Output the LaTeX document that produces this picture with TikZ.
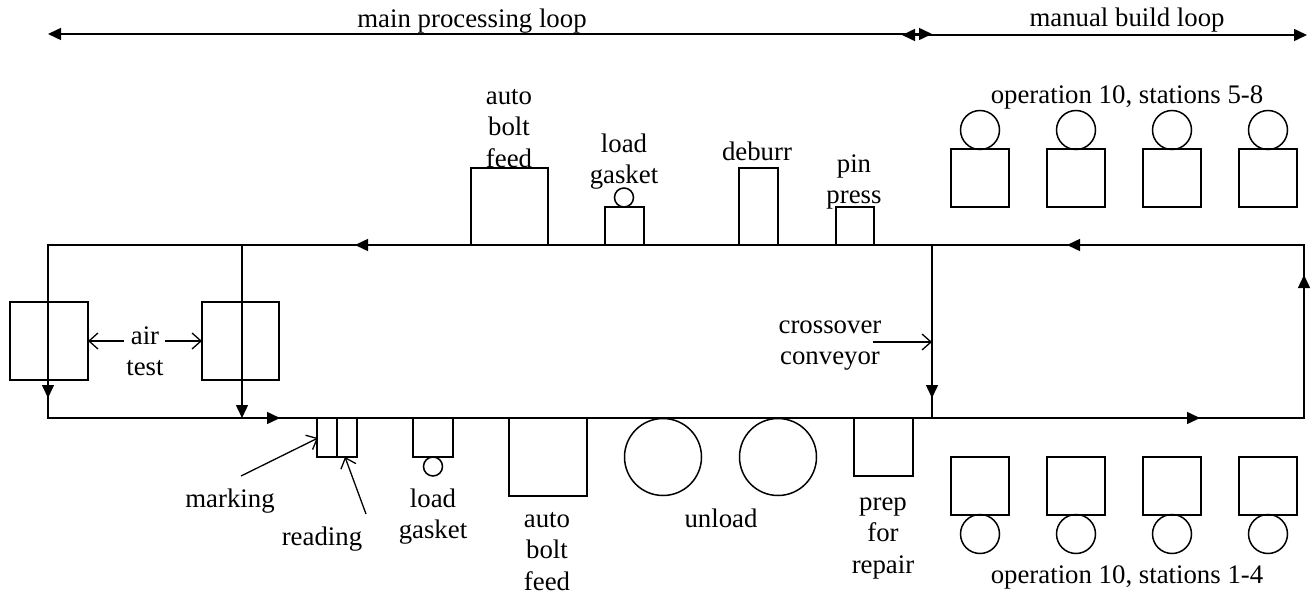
\documentclass[tikz,border=0pt]{standalone}
\usepackage{fontspec}
\setmainfont{Liberation Serif}
\usetikzlibrary{arrows.meta}
\newcommand{\mlines}[1]{\begin{tabular}[t]{@{}c@{}}#1\end{tabular}}
\begin{document}
\begin{tikzpicture}[x=1pt,y=-1pt,line width=1.5pt,
  lbl/.style={font=\fontsize{26.8}{31.5}\selectfont, inner sep=0pt, anchor=base},
  box/.style={draw, inner sep=0pt, outer sep=0pt},
  ring/.style={draw, circle, inner sep=0pt, outer sep=0pt},
  conv/.style={-{Triangle[length=13pt,width=12pt]}},
  dbl/.style={{Triangle[length=13pt,width=12pt]}-{Triangle[length=13pt,width=12pt]}},
  lead/.style={-{Straight Barb[length=9pt,width=16pt]}, line width=1.3pt}]
\useasboundingbox (0,0) rectangle (1312,594);

% top labels and extents
\node[lbl] (mpl) at (472,28) {main processing loop};
\node[lbl] (mbl) at (1127,27) {manual build loop};
\coordinate (mplL) at (48,34); \coordinate (mplR) at (932,34);
\coordinate (mblL) at (902,35); \coordinate (mblR) at (1307,35);
\draw[dbl] (mplL) -- (mplR);
\draw[dbl] (mblL) -- (mblR);

% conveyor loops
\coordinate (TL) at (48,245); \coordinate (BL) at (48,418);
\coordinate (T2) at (242,245); \coordinate (B2) at (242,418);
\coordinate (CT) at (932,245); \coordinate (CB) at (932,418);
\coordinate (TR) at (1304,245); \coordinate (BR) at (1304,418);
\draw (TR) -- (TL) -- (BL) -- (BR) -- cycle;
\draw (CT) -- (CB);
\draw[conv] (T2) -- (B2);

% flow arrows on the conveyors
\coordinate (f1a) at (372,245); \coordinate (f1b) at (355,245);
\coordinate (f2a) at (48,380);  \coordinate (f2b) at (48,398);
\coordinate (f3a) at (262,418); \coordinate (f3b) at (280,418);
\coordinate (f4a) at (932,380); \coordinate (f4b) at (932,398);
\coordinate (f5a) at (1085,245); \coordinate (f5b) at (1067,245);
\coordinate (f6a) at (1304,293); \coordinate (f6b) at (1304,275);
\coordinate (f7a) at (1182,418); \coordinate (f7b) at (1200,418);
\foreach \a in {1,...,7} {\draw[conv] (f\a a) -- (f\a b);}

% upper main line stations
\node[box, minimum width=77pt, minimum height=77pt] (abfT) at (509.5,206.5) {};
\node[lbl] (abfTl) at (509,104) {\mlines{auto\\bolt\\feed}};
\node[box, minimum width=39pt, minimum height=38pt] (lgT) at (624.5,226) {};
\node[ring, minimum size=19pt] (lgTc) at (624,197.5) {};
\node[lbl] (lgTl) at (624,152) {\mlines{load\\gasket}};
\node[box, minimum width=39pt, minimum height=77pt] (deb) at (758.5,206.5) {};
\node[lbl] (debl) at (757,160) {deburr};
\node[box, minimum width=38pt, minimum height=38pt] (pin) at (855,226) {};
\node[lbl] (pinl) at (854,172) {\mlines{pin\\press}};

% manual stations 5-8
\node[lbl] (op58) at (1127,103) {operation 10, stations 5-8};
\foreach \i/\x in {5/980,6/1076,7/1172,8/1268} {
  \node[box, minimum width=58pt, minimum height=58pt] (s\i) at (\x,178) {};
  \node[ring, minimum size=39pt] (o\i) at (\x,130) {};
}

% manual stations 1-4
\node[lbl] (op14) at (1127,583) {operation 10, stations 1-4};
\foreach \i/\x in {1/980,2/1076,3/1172,4/1268} {
  \node[box, minimum width=58pt, minimum height=58pt] (s\i) at (\x,486) {};
  \node[ring, minimum size=39pt] (o\i) at (\x,534) {};
}

% air test
\node[box, minimum width=78pt, minimum height=78pt] (airL) at (49,341) {};
\node[box, minimum width=77pt, minimum height=78pt] (airR) at (240.5,341) {};
\node[lbl] (airl) at (145,344) {\mlines{air\\test}};
\coordinate (airLa) at (124,341); \coordinate (airRa) at (165,341);
\draw[lead] (airLa) -- (airL.east);
\draw[lead] (airRa) -- (airR.west);

% crossover
\node[lbl] (xov) at (830,333) {\mlines{crossover\\conveyor}};
\coordinate (xova) at (873,342); \coordinate (xovb) at (932,342);
\draw[lead] (xova) -- (xovb);

% marking / reading
\node[box, minimum width=20pt, minimum height=39pt] (mark) at (327,437.5) {};
\node[box, minimum width=20pt, minimum height=39pt] (read) at (347,437.5) {};
\node[lbl] (markl) at (230,507) {marking};
\node[lbl] (readl) at (322,545) {reading};
\coordinate (markA) at (241,476); \coordinate (markB) at (318,438);
\coordinate (readA) at (366,514); \coordinate (readB) at (345,457);
\draw[lead] (markA) -- (markB);
\draw[lead] (readA) -- (readB);

% lower main line stations
\node[box, minimum width=40pt, minimum height=39pt] (lgB) at (433,437.5) {};
\node[ring, minimum size=19pt] (lgBc) at (433,466.5) {};
\node[lbl] (lgBl) at (433,507) {\mlines{load\\gasket}};
\node[box, minimum width=78pt, minimum height=78pt] (abfB) at (548,457) {};
\node[lbl] (abfBl) at (547,527) {\mlines{auto\\bolt\\feed}};
\node[ring, minimum size=77pt] (un1) at (663,457) {};
\node[ring, minimum size=77pt] (un2) at (778,457) {};
\node[lbl] (unl) at (721,527) {unload};
\node[box, minimum width=59pt, minimum height=58pt] (prep) at (883.5,447) {};
\node[lbl] (prepl) at (883,510) {\mlines{prep\\for\\repair}};
\end{tikzpicture}
\end{document}
